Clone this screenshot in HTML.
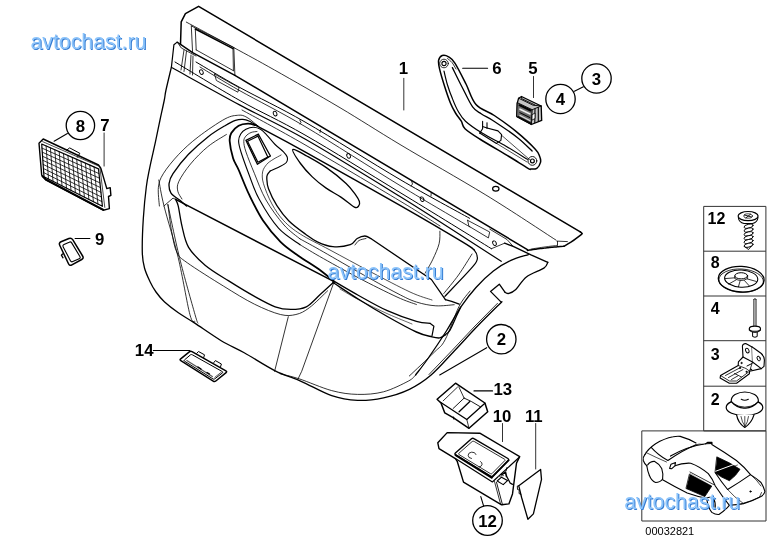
<!DOCTYPE html>
<html><head><meta charset="utf-8"><title>diagram</title>
<style>
html,body{margin:0;padding:0;background:#fff;}
body{width:773px;height:546px;overflow:hidden;font-family:"Liberation Sans",sans-serif;}
svg{display:block;will-change:transform;font-family:"Liberation Sans",sans-serif;}
.wm{font-size:22.4px;fill:#8cc4fb;}
.wms{font-size:22.4px;fill:#357cd2;}
</style></head><body>
<svg width="773" height="546" viewBox="0 0 773 546" stroke-linecap="round" stroke-linejoin="round">
<rect x="0" y="0" width="773" height="546" fill="#fff"/>
<path d="M180.5 44.4 L181.2 21.8 L185.4 13.6 L198.6 6.3 L580.3 231.9" fill="none" stroke="#000" stroke-width="1.5"/>
<path d="M580.3 231.9 C580.5 232.1 581.6 232.8 581.8 233.2 C581.9 233.6 583 233.1 581.2 234.6 C579.4 236.1 573.8 240.2 570.9 242.2 C568 244.1 565.1 245.6 563.9 246.3" fill="none" stroke="#000" stroke-width="1.5"/>
<path d="M186.3 22.1 C194.2 26.3 218.9 39.5 233.6 47.5 C248.3 55.5 256.8 60 274.5 70 C292.2 80 319.1 95.3 340 107.7 C360.9 120.1 375.7 129.9 400 144.5 C424.3 159.1 459.9 179.1 485.9 195 C511.9 210.9 544.3 232.6 556 240.1" fill="none" stroke="#000" stroke-width="0.8"/>
<path d="M234.9 75.3 L527.4 249.6" fill="none" stroke="#000" stroke-width="1.5"/>
<path d="M527.4 250.4 C529.5 250.1 535.9 249.1 540 248.6 C544.1 248.1 548 247.7 552 247.3 C556 246.9 561.9 246.5 563.9 246.3" fill="none" stroke="#000" stroke-width="1.5" stroke-dasharray="2.2 0.6"/>
<path d="M531 249 C533.3 248.7 540.6 247.5 545 246.9 C549.4 246.3 555.4 245.6 557.5 245.3" fill="none" stroke="#000" stroke-width="0.7"/>
<path d="M556.9 241.1 L567.4 241.6" fill="none" stroke="#000" stroke-width="0.8"/>
<path d="M557.5 241.4 L557.5 245.2" fill="none" stroke="#000" stroke-width="0.8"/>
<path d="M191.3 25.9 L192.6 52.6" fill="none" stroke="#000" stroke-width="0.8"/>
<path d="M195.3 29 L196.2 49.9" fill="none" stroke="#000" stroke-width="0.8"/>
<path d="M191.3 25.9 L233.8 47.5" fill="none" stroke="#000" stroke-width="0.8"/>
<path d="M195.3 29 L233 48.6" fill="none" stroke="#000" stroke-width="1.5"/>
<path d="M233.8 47.5 L234.9 75.3" fill="none" stroke="#000" stroke-width="0.8"/>
<path d="M233 48.6 L233.4 70.7" fill="none" stroke="#000" stroke-width="0.8"/>
<path d="M180.5 44.4 L192.6 52.6 L234.9 75.3" fill="none" stroke="#000" stroke-width="1.5"/>
<path d="M196.2 49.9 L233.4 70.7" fill="none" stroke="#000" stroke-width="0.8"/>
<path d="M180.5 44.4 L177.2 42.1 L173.9 44.8 L171.4 67.1" fill="none" stroke="#000" stroke-width="1.2"/>
<path d="M177.2 42.1 L181.3 48 L196 56" fill="none" stroke="#000" stroke-width="0.8"/>
<path d="M184 50 L181 70" fill="none" stroke="#000" stroke-width="0.8"/>
<path d="M186.5 51 L184 71.5" fill="none" stroke="#000" stroke-width="0.8"/>
<path d="M191 55 L190 74" fill="none" stroke="#000" stroke-width="0.8"/>
<path d="M193 56 L192.5 75" fill="none" stroke="#000" stroke-width="0.8"/>
<path d="M171.4 67.1 C170.5 70.9 167.2 84.5 166 90 C164.8 95.5 165.3 95 164.3 100 C163.3 105 161.5 113 160 120 C158.5 127 157.2 133.7 155.5 141.7 C153.8 149.7 151.2 160.3 149.7 167.9 C148.2 175.5 147.4 178.5 146.3 187 C145.2 195.5 144 207.9 143.3 218.8 C142.6 229.7 142.1 244.2 142.3 252.4 C142.5 260.6 143.2 263.2 144.5 268 C145.8 272.8 147.9 277.2 149.8 281.2 C151.7 285.2 153.5 288.5 156 292 C158.5 295.5 160.9 298.6 164.6 302 C168.3 305.4 173 309 178 312.5 C183 316 187.2 318.2 194.4 322.9 C201.6 327.6 212.9 335.7 221.2 340.7 C229.5 345.7 235.2 347.8 244.2 352.8 C253.2 357.8 265.7 366.1 275.2 370.9 C284.7 375.6 291.7 377.2 301.1 381.3 C310.5 385.4 322.3 392.5 331.7 395.7 C341.1 398.9 349 400 357.6 400.4 C366.2 400.8 374.9 399.6 383.5 397.8 C392.1 396 401.5 393.1 409.4 389.3 C417.3 385.5 423.6 381.4 431.1 375 C438.6 368.6 446.7 358.9 454.5 350.7 C462.3 342.5 469.9 334 477.8 325.8 C485.7 317.6 497.9 305.7 501.9 301.7" fill="none" stroke="#000" stroke-width="1.3"/>
<path d="M280 373.7 C283.2 374.6 290.8 376.1 299.4 378.9 C308 381.7 322 388 331.7 390.6 C341.4 393.2 349 394.2 357.6 394.4 C366.2 394.6 375.1 394 383.5 391.8 C391.9 389.6 402.8 384 408.2 381.2 C413.6 378.4 414.4 376 415.6 375" fill="none" stroke="#000" stroke-width="0.8"/>
<path d="M497.5 303.3 L475 326 L452 350.5 L429 374.5" fill="none" stroke="#000" stroke-width="0.8"/>
<path d="M501.2 302.1 L490.5 291.4 L499.3 284.2 L505.1 292.4" fill="none" stroke="#000" stroke-width="1.3"/>
<path d="M505.1 292.4 C505.8 292.6 507.2 293.9 509 293.4 C510.8 292.9 512.9 292.2 515.8 289.5 C518.7 286.8 521.7 280.5 526.4 276.9 C531.1 273.3 540.3 270.5 543.9 268.1 C547.5 265.7 547.1 263.3 547.8 262.3" fill="none" stroke="#000" stroke-width="1.3"/>
<path d="M547.8 262.3 L531 254.9 L513.2 246.4 L504.6 243.2" fill="none" stroke="#000" stroke-width="1.3"/>
<path d="M196 62 C203.3 66.3 221.8 77.6 240 87.6 C258.2 97.6 278.3 106.7 305 122 C331.7 137.3 372.6 163.4 400 179.5 C427.4 195.6 458 211.8 469.6 218.3" fill="none" stroke="#000" stroke-width="1.0"/>
<path d="M200 67 C206.7 71 222.5 80.9 240 90.8 C257.5 100.7 278.3 110.7 305 126.5 C331.7 142.3 372.5 168.8 400 185.5 C427.5 202.2 458.3 220.1 470 227" fill="none" stroke="#000" stroke-width="0.8"/>
<path d="M175 62 C185.8 68.4 218.3 88.4 240 100.6 C261.7 112.8 278.3 119.7 305 135 C331.7 150.3 368.9 173.6 400 192.5 C431.1 211.4 476.2 239.3 491.4 248.7" fill="none" stroke="#000" stroke-width="1.0"/>
<path d="M172.2 67.8 C183.5 74 217.9 93.2 240 105.1 C262.1 117 278.3 123.8 305 139 C331.7 154.2 372.8 179.7 400 196.5 C427.2 213.3 451.3 229.2 468.2 240 C485.1 250.8 495.7 257.8 501.2 261.3" fill="none" stroke="#000" stroke-width="1.2"/>
<path d="M242 110 C252.5 115.8 278.7 129.6 305 144.8 C331.3 160 377.5 187.5 400 201 C422.5 214.5 433.3 221.8 440 226" fill="none" stroke="#000" stroke-width="0.8"/>
<path d="M255.3 125.1 C256.2 125.5 252.2 123.3 260.5 127.8 C268.8 132.2 281.8 138.9 305 151.8 C328.2 164.7 373.8 190.4 400 205.4 C426.2 220.4 450.1 234.5 462.4 241.9 C474.7 249.3 472.1 248.4 474 249.7" fill="none" stroke="#000" stroke-width="1.4"/>
<path d="M491.4 248.7 L504.6 243.2" fill="none" stroke="#000" stroke-width="0.8"/>
<path d="M489.8 229.2 L507 239.5 L513.2 246.4" fill="none" stroke="#000" stroke-width="0.8"/>
<ellipse cx="201.4" cy="72.1" rx="1.7" ry="2.4" fill="none" stroke="#000" stroke-width="0.9" transform="rotate(-25 201.4 72.1)"/>
<ellipse cx="275.1" cy="113.6" rx="1.7" ry="2.4" fill="none" stroke="#000" stroke-width="0.9" transform="rotate(-25 275.1 113.6)"/>
<ellipse cx="348.6" cy="155.9" rx="1.7" ry="2.4" fill="none" stroke="#000" stroke-width="0.9" transform="rotate(-25 348.6 155.9)"/>
<ellipse cx="422.1" cy="199.2" rx="1.7" ry="2.4" fill="none" stroke="#000" stroke-width="0.9" transform="rotate(-25 422.1 199.2)"/>
<ellipse cx="494.5" cy="243.2" rx="1.7" ry="2.4" fill="none" stroke="#000" stroke-width="0.9" transform="rotate(-25 494.5 243.2)"/>
<ellipse cx="495.8" cy="188.8" rx="3.2" ry="2.4" fill="none" stroke="#000" stroke-width="1.2"/>
<path d="M214.4 74 L239.1 87.7 L237.8 92.2 L216.4 80.5 L214.4 74" fill="none" stroke="#000" stroke-width="0.8"/>
<path d="M299.8 120.1 L301 122.5 L300 124" fill="none" stroke="#000" stroke-width="0.8"/>
<path d="M320.6 129.8 L320 132.5" fill="none" stroke="#000" stroke-width="0.8"/>
<path d="M411.7 181.3 L412.5 184 L411 186" fill="none" stroke="#000" stroke-width="0.8"/>
<path d="M431.2 193 L431 196" fill="none" stroke="#000" stroke-width="0.8"/>
<path d="M467.6 220.3 L489.7 232 L488.4 237.9 L468.9 226.2 L467.6 220.3" fill="none" stroke="#000" stroke-width="0.8"/>
<path d="M528.4 254.6 C525.5 255.6 516.7 257.7 510.9 260.4 C505.1 263.1 499.2 266.5 493.4 271 C487.6 275.5 481.4 281.5 476 287.5 C470.6 293.5 465.6 299.9 460.7 307.1 C455.8 314.3 452.1 321.9 446.7 330.5 C441.2 339.1 433.2 351.1 428 358.5 C422.8 365.9 417.7 372.2 415.6 375" fill="none" stroke="#000" stroke-width="1.3"/>
<path d="M470 291 C468.2 293.6 463.1 298.4 459 306.5 C454.9 314.6 449.2 332.2 445.1 339.8 C441 347.4 440.2 346.3 434.2 352.3 C428.2 358.3 413.4 372.1 409.3 376" fill="none" stroke="#000" stroke-width="0.8"/>
<path d="M474 249.7 C474.5 250.7 477 252.9 477 255.5 C477 258.1 479.4 258.4 474 265.2 C468.6 272 449.8 291.1 444.9 296.3" fill="none" stroke="#000" stroke-width="1.2"/>
<path d="M472 254 C469.8 257.5 463.2 268.4 458.5 275 C453.8 281.6 446.2 290.4 443.8 293.5" fill="none" stroke="#000" stroke-width="0.8"/>
<path d="M258 126.3 C257 125.4 254 122.6 252 121 C250 119.4 248.1 117.8 245.9 116.8 C243.7 115.8 242.1 114.8 238.6 115.2 C235.1 115.6 231.7 115.3 225 118.9 C218.3 122.5 205.9 131 198.2 136.9 C190.5 142.8 184.6 148.2 178.8 154.3 C173 160.4 166.7 168.2 163.3 173.7 C159.9 179.2 159.1 181.9 158.4 187.3 C157.8 192.7 159.2 202.9 159.4 206" fill="none" stroke="#000" stroke-width="0.8"/>
<path d="M258 126.3 C256.5 125.4 251.5 122.2 249 121 C246.5 119.8 245.1 119.5 242.8 119.4 C240.5 119.3 238.4 119.4 235.4 120.4 C232.4 121.5 229.6 123 225 125.7 C220.4 128.4 214 132.1 207.9 136.9 C201.8 141.7 194.3 148.2 188.5 154.3 C182.7 160.4 176.2 168.8 173 173.7 C169.8 178.5 169.4 180.2 169.1 183.4 C168.8 186.6 169.1 190.2 171 193.1 C172.9 196 178.2 198.8 180.8 200.9 C183.4 203.1 185.6 205.2 186.6 206" fill="none" stroke="#000" stroke-width="1.3"/>
<path d="M226.4 134.5 C223.3 136.5 213.9 141.7 207.9 146.6 C201.9 151.5 195.3 158.2 190.5 164 C185.7 169.8 180.9 177 178.8 181.5 C176.7 186 177.3 188.3 177.8 191.2 C178.3 194.1 181.3 197.7 182 199" fill="none" stroke="#000" stroke-width="0.8"/>
<path d="M255.3 125.1 C254.1 124.8 250.8 123.5 248 123.6 C245.2 123.7 241.4 124.1 238.6 125.7 C235.8 127.3 232.8 130.4 231.3 133 C229.8 135.6 229.4 137.1 229.7 141.3 C230 145.5 231.6 153.4 233.1 158.2 C234.6 163 236 163.8 238.7 170 C241.4 176.2 245.3 186.8 249.4 195.2 C253.5 203.6 257.8 212.7 263 220.5 C268.2 228.3 274.7 236 280.5 241.8 C286.3 247.6 291.1 250.6 297.9 255.4 C304.7 260.2 315.2 266.5 321.2 270.9 C327.2 275.3 332 279.9 334.1 281.7" fill="none" stroke="#000" stroke-width="1.8"/>
<path d="M270.2 171 C271.8 170.3 276.8 168.2 279.5 166.8 C282.2 165.4 285 164.1 286.3 162.5 C287.6 160.9 287.7 158.8 287.2 157 C286.7 155.2 285.5 153.9 283.5 151.8 C281.5 149.7 277.9 147.3 275.1 144.5 C272.3 141.7 269.2 137.6 266.8 135.1 C264.4 132.6 262.8 130.6 260.5 129.3 C258.2 128 255.6 127.2 253.2 127.2 C250.8 127.2 248 128.2 245.9 129.3 C243.8 130.4 241.9 132 240.7 134 C239.5 136 238.5 138.3 238.6 141.3 C238.7 144.3 239.3 146.6 241 152 C242.7 157.4 245.7 165.8 248.7 173.7 C251.7 181.5 254.1 190 259.1 199.1 C264.1 208.2 271.7 220.6 278.5 228.2 C285.3 235.8 296.4 241.9 300 244.7" fill="none" stroke="#000" stroke-width="1.1"/>
<path d="M257 131.5 C256 131.7 252.9 131.7 251.1 132.5 C249.2 133.3 247.1 134.6 245.9 136.1 C244.7 137.6 243.8 138.7 243.8 141.3 C243.8 144 244.2 146.6 246 152 C247.8 157.4 251.2 165.7 254.5 173.7 C257.8 181.7 261.1 191.4 266 200 C270.9 208.6 278.3 218.5 284 225 C289.7 231.5 297.3 236.6 300 238.9" fill="none" stroke="#000" stroke-width="0.8"/>
<path d="M281.1 155 C279.8 155.8 275.4 157.9 273 159.5 C270.6 161.1 268.5 162.2 266.8 164.3 C265.1 166.4 263.2 168.7 262.6 171.9 C262.1 175.1 261.9 178.4 263.5 183.7 C265.1 189 268.5 197.7 271.9 203.9 C275.3 210.1 278.9 215.6 283.7 220.7 C288.5 225.8 292.8 229.3 300.5 234.2 C308.2 239.1 318.4 243.8 330 250 C341.6 256.2 356.7 264.5 370 271.5 C383.3 278.5 399.7 287.2 410 292 C420.3 296.8 428.3 298.7 432 300" fill="none" stroke="#000" stroke-width="0.7"/>
<path d="M245.9 140.3 L258.4 134.2 L270.4 156 L257.4 164.3Z" fill="none" stroke="#000" stroke-width="1.3"/>
<path d="M247.5 141.3 L257.9 136.1 L267.8 157 L257.9 162.2Z" fill="none" stroke="#000" stroke-width="1.2"/>
<path d="M258.4 134.2 L257.9 136.1" fill="none" stroke="#000" stroke-width="0.8"/>
<path d="M270.4 156 L267.8 157" fill="none" stroke="#000" stroke-width="0.8"/>
<path d="M270.2 171 C269.8 171.6 268.1 173.2 267.5 174.5 C266.9 175.8 266.6 176.2 266.8 178.6 C267 181 266.8 184.2 268.5 188.7 C270.2 193.2 273.5 200.3 276.9 205.6 C280.3 210.9 283.9 215.9 288.7 220.7 C293.5 225.5 300.8 230.7 305.6 234.2 C310.4 237.7 312.8 239.7 317.3 241.8 C321.9 243.9 327.4 246.2 332.9 246.7 C338.4 247.2 346.2 246.1 350.3 244.7 C354.4 243.3 354.8 239.9 357.2 238.5 C359.6 237.1 362.6 236 364.9 236 C367.2 236 369.8 238.1 370.8 238.5" fill="none" stroke="#000" stroke-width="1.3"/>
<path d="M370.8 238.5 L431.4 279.5 L445.4 299.7" fill="none" stroke="#000" stroke-width="1.3"/>
<path d="M355 245 C355.7 244.2 357.2 241.6 359 240.5 C360.8 239.4 364.8 238.8 366 238.5" fill="none" stroke="#000" stroke-width="0.8"/>
<path d="M292.8 149.5 C293.9 148.3 301.7 153.2 307.3 156.3 C312.9 159.4 320.2 163.4 326.7 167.9 C333.2 172.4 341.2 178.9 346.1 183.4 C351 187.9 353.6 192.1 355.8 195.1 C358 198.1 358.9 199.7 359.4 201.5 C359.9 203.3 359.4 205.1 358.6 206 C357.8 206.9 357.3 208.7 354.4 207.2 C351.4 205.7 345.7 200.3 340.9 197.1 C336.1 193.9 330.6 191.3 325.8 187.9 C321 184.5 316.5 181 312.3 176.9 C308.1 172.8 303.8 168.1 300.5 163.5 C297.2 158.9 291.7 150.7 292.8 149.5Z" fill="none" stroke="#000" stroke-width="1.3"/>
<path d="M439.9 231.2 C439.8 233.3 440.3 239 439.1 243.7 C437.9 248.4 435.2 254.3 432.9 259.2 C430.6 264.1 426.4 270.9 425.1 273.2" fill="none" stroke="#000" stroke-width="0.8"/>
<path d="M333 280.6 C337.2 283 349.1 290.2 358.2 295.2 C367.2 300.2 377.6 306.3 387.3 310.7 C397 315.1 409.3 319.3 416.4 321.4 C423.5 323.5 427.7 323 430 323.3" fill="none" stroke="#000" stroke-width="1.3"/>
<path d="M430 323.3 L433.9 326.2 L432 335.9" fill="none" stroke="#000" stroke-width="1.2"/>
<path d="M333 282.5 C337.2 285.2 349.1 293.3 358.2 299 C367.2 304.7 377.6 311 387.3 316.5 C397 322 408.9 328.6 416.4 332 C423.8 335.4 428.1 335.9 432 336.9 C435.9 337.9 437.5 338.2 439.7 337.9 C441.9 337.6 444.1 335.5 445 335" fill="none" stroke="#000" stroke-width="1.4"/>
<path d="M445 335 C445.8 334.2 448.1 333.3 450 330.1 C451.9 326.9 454.7 319.8 456.5 316 C458.3 312.2 460 308.6 460.7 307.1" fill="none" stroke="#000" stroke-width="1.3"/>
<path d="M340 289 C343.3 290.9 352 296.3 360 300.5 C368 304.7 379.3 310.1 388 314 C396.7 317.9 408 322.3 412 324" fill="none" stroke="#000" stroke-width="0.6"/>
<path d="M300 238.9 C303.2 240.7 309.7 244.1 319.4 249.6 C329.1 255.1 345.3 264.6 358.2 271.9 C371.1 279.2 387.3 288.2 397 293.2 C406.7 298.2 409.9 299.9 416.4 302 C422.9 304.1 429.5 305.4 435.8 305.8 C442.1 306.2 451.1 304.9 454.2 304.7" fill="none" stroke="#000" stroke-width="0.8"/>
<path d="M300 244.7 C303.2 246.6 309.7 250.8 319.4 256.3 C329.1 261.8 345.3 270.9 358.2 277.7 C371.1 284.5 387.3 292.5 397 297 C406.7 301.5 413.2 303.2 416.4 304.5" fill="none" stroke="#000" stroke-width="0.8"/>
<path d="M445.4 299.7 L451.6 301.3 L459.2 304.2" fill="none" stroke="#000" stroke-width="1.3"/>
<path d="M175.6 199.4 L334.1 281.7" fill="none" stroke="#000" stroke-width="1.5"/>
<path d="M175.6 199.4 C176 200.5 177.1 201.4 178.2 205.9 C179.3 210.4 180.4 219.7 182.1 226.6 C183.8 233.5 184.7 240.8 188.6 247.3 C192.5 253.8 198.7 259.8 205.4 265.4 C212.1 271 220.5 275.7 228.7 280.9 C236.9 286.1 246.8 292.1 254.5 296.4 C262.2 300.7 269.1 304.6 275.2 306.8 C281.2 309 285.6 309.4 290.8 309.4 C296 309.4 301.5 309.2 306.3 306.8 C311.1 304.4 315.3 298.9 319.9 294.7 C324.5 290.5 331.7 283.9 334.1 281.7" fill="none" stroke="#000" stroke-width="1.3"/>
<path d="M167.9 204.6 C168.5 209.1 170.2 223.7 171.7 231.7 C173.2 239.7 174.3 247.2 176.9 252.4 C179.5 257.6 179.5 257.2 187.3 262.8 C195.1 268.4 212.3 279.2 223.5 286.1 C234.7 293 245 299.5 254.5 304.2 C264 308.9 273.5 312.8 280.4 314.5 C287.3 316.2 291 315.6 295.9 314.5 C300.8 313.4 304.2 311.6 309.5 307.6 C314.8 303.7 324.6 293.6 327.6 290.8" fill="none" stroke="#000" stroke-width="0.8"/>
<path d="M158.8 180 C159.7 184.3 160.8 193 164 205.9 C167.2 218.8 173.9 239.5 178.2 257.6 C182.5 275.7 187.1 303.9 189.9 314.5 C192.7 325.1 194.2 320.2 195 321.3" fill="none" stroke="#000" stroke-width="0.8"/>
<path d="M167.9 204.6 C169.8 213.4 175 239.3 179.5 257.6 C184 275.9 191.9 303.6 195 314.5 C198.1 325.4 197.5 321.6 198 323" fill="none" stroke="#000" stroke-width="0.8"/>
<path d="M164 205.9 L173 198.1 L175.6 199.4" fill="none" stroke="#000" stroke-width="0.8"/>
<path d="M334.1 281.7 L301.7 371.3 L298 379" fill="none" stroke="#000" stroke-width="0.8"/>
<path d="M288.3 316.7 L274.6 371.3" fill="none" stroke="#000" stroke-width="0.8"/>
<text x="403.3" y="74.4" font-size="16.8" font-weight="bold" text-anchor="middle" fill="#000">1</text>
<path d="M403.8 78.3 L403.8 110" fill="none" stroke="#000" stroke-width="0.8"/>
<text x="497" y="74" font-size="16.8" font-weight="bold" text-anchor="middle" fill="#000">6</text>
<path d="M462.7 68.2 L487.6 68.2" fill="none" stroke="#000" stroke-width="1.1"/>
<text x="533" y="74" font-size="16.8" font-weight="bold" text-anchor="middle" fill="#000">5</text>
<path d="M533.5 76.5 L533.5 97.6" fill="none" stroke="#000" stroke-width="0.8"/>
<path d="M574.4 91.2 L583.4 86.7" fill="none" stroke="#000" stroke-width="1.1"/>
<circle cx="560.5" cy="99" r="14.7" fill="#fff" stroke="#000" stroke-width="1.3"/>
<text x="560.5" y="105" font-size="16.8" font-weight="bold" text-anchor="middle" fill="#000">4</text>
<circle cx="596.5" cy="78.5" r="14.7" fill="#fff" stroke="#000" stroke-width="1.3"/>
<text x="596.5" y="84.5" font-size="16.8" font-weight="bold" text-anchor="middle" fill="#000">3</text>
<path d="M67.4 133.5 L54.1 141.2" fill="none" stroke="#000" stroke-width="1.1"/>
<circle cx="80.4" cy="125.5" r="14.2" fill="#fff" stroke="#000" stroke-width="1.3"/>
<text x="80.4" y="131.5" font-size="16.8" font-weight="bold" text-anchor="middle" fill="#000">8</text>
<text x="105" y="130.6" font-size="16.8" font-weight="bold" text-anchor="middle" fill="#000">7</text>
<path d="M104.1 133 L104.1 166.1" fill="none" stroke="#000" stroke-width="0.8"/>
<text x="99.7" y="245.2" font-size="16.8" font-weight="bold" text-anchor="middle" fill="#000">9</text>
<path d="M75.1 238.5 L89.9 238.5" fill="none" stroke="#000" stroke-width="1.1"/>
<text x="144.2" y="355.7" font-size="16.8" font-weight="bold" text-anchor="middle" fill="#000">14</text>
<path d="M153.3 350.5 L189.8 350.5" fill="none" stroke="#000" stroke-width="1.1"/>
<path d="M486.7 347.7 L439.7 375" fill="none" stroke="#000" stroke-width="1.1"/>
<circle cx="501.3" cy="339.2" r="14.7" fill="#fff" stroke="#000" stroke-width="1.3"/>
<text x="501.3" y="345.2" font-size="16.8" font-weight="bold" text-anchor="middle" fill="#000">2</text>
<text x="502.8" y="394.6" font-size="16.8" font-weight="bold" text-anchor="middle" fill="#000">13</text>
<path d="M474 390.9 L492.5 390.9" fill="none" stroke="#000" stroke-width="1.1"/>
<text x="502" y="421.8" font-size="16.8" font-weight="bold" text-anchor="middle" fill="#000">10</text>
<path d="M502.5 423.5 L502.5 441.6" fill="none" stroke="#000" stroke-width="0.8"/>
<text x="533.8" y="421.8" font-size="16.8" font-weight="bold" text-anchor="middle" fill="#000">11</text>
<path d="M535.7 423.5 L535.7 469" fill="none" stroke="#000" stroke-width="0.8"/>
<path d="M480.8 496.6 L483.8 506.6" fill="none" stroke="#000" stroke-width="1.1"/>
<circle cx="487.5" cy="520.5" r="14.8" fill="#fff" stroke="#000" stroke-width="1.3"/>
<text x="487.5" y="526.5" font-size="16.8" font-weight="bold" text-anchor="middle" fill="#000">12</text>
<path d="M442.2 55.5 C440.5 56.1 439.1 58.2 438.6 60.4 C438.2 62.6 438.5 64.3 439.5 68.6 C440.5 72.9 442.7 80.3 444.5 86 C446.3 91.7 448.6 98.5 450.4 103 C452.2 107.5 453.7 110 455.5 113 C457.3 116 459.7 118.6 461.3 121.2 C462.9 123.8 461.9 125.7 465 128.7 C468.1 131.7 472.4 134.4 479.7 139 C487 143.6 500.9 151.6 509 156.5 C517 161.4 524.4 166.2 528 168.3 C531.6 170.4 529.4 169 530.9 169 C532.4 169 535.2 169.4 536.8 168.3 C538.4 167.2 540 164.4 540.5 162.4 C541 160.4 540.6 158.7 539.7 156.5 C538.8 154.3 539.2 153.3 535.3 149.2 C531.4 145 523.1 137.2 516.3 131.6 C509.5 126 501 120 494.3 115.5 C487.6 111 480.7 109.8 476 104.5 C471.3 99.2 469.5 90.9 466 84 C462.5 77.1 457.8 67.6 454.9 63.1 C452 58.6 450.7 58.1 448.6 56.8 C446.5 55.5 443.9 54.9 442.2 55.5Z" fill="none" stroke="#000" stroke-width="1.5"/>
<path d="M452.4 67.6 C454 70.8 458.5 80.2 461.9 86.7 C465.3 93.2 469.3 102.4 472.6 106.9 C475.9 111.5 477.9 111.6 481.5 114 C485.1 116.4 487.9 117.2 494 121.2 C500.1 125.2 511.5 132.9 517.9 137.9 C524.2 142.9 529.7 148.8 532.1 151" fill="none" stroke="#000" stroke-width="1.3"/>
<path d="M444 71.2 C444.6 73.5 446.1 80.4 447.5 85 C448.9 89.6 450.6 94.3 452.4 98.6 C454.1 102.9 455.8 107.2 458 111 C460.2 114.8 461.5 117.5 465.5 121.2 C469.5 124.9 475.4 128.9 482.1 133.1 C488.9 137.3 498.4 141.8 506 146.2 C513.5 150.6 523.8 157.1 527.4 159.3" fill="none" stroke="#000" stroke-width="1.2"/>
<path d="M447.5 58.5 C448.2 59.2 450.6 60.8 452 62.5 C453.4 64.2 455.3 67.9 456 69" fill="none" stroke="#000" stroke-width="0.8"/>
<circle cx="444" cy="63.5" r="2.1" fill="none" stroke="#000" stroke-width="1.1"/>
<circle cx="444" cy="63.5" r="4.3" fill="none" stroke="#000" stroke-width="0.8"/>
<circle cx="532.4" cy="160.9" r="1.9" fill="none" stroke="#000" stroke-width="1.2"/>
<circle cx="532.4" cy="160.9" r="4.4" fill="none" stroke="#000" stroke-width="0.9"/>
<path d="M482.6 121.4 L482.6 126.5" fill="none" stroke="#000" stroke-width="1.1"/>
<path d="M487 122.8 L487 128" fill="none" stroke="#000" stroke-width="1.1"/>
<path d="M479.7 133.1 L482.6 128.7 L482.6 126.5 L487 128" fill="none" stroke="#000" stroke-width="1.1"/>
<path d="M487 128 L498 130.9 L501.6 134.6 L500.9 140.4 L496.5 143.4" fill="none" stroke="#000" stroke-width="1.1"/>
<path d="M479.7 133.1 L496.5 143.4" fill="none" stroke="#000" stroke-width="1.2"/>
<path d="M501.6 135.3 L529.5 159.5" fill="none" stroke="#000" stroke-width="0.7"/>
<path d="M496.5 143.4 L527 162" fill="none" stroke="#000" stroke-width="0.7"/>
<path d="M518.6 98.2 L521.5 96.5 L541.2 106 L541.7 120.4 L531.4 124.5 L516.9 116.7 L517.4 102.7Z" fill="#c4c4c4" stroke="#000" stroke-width="1.3"/>
<path d="M517.4 102.7 L532.2 109.7 L531.4 124.5 L516.9 116.7Z" fill="#6a6a6a" stroke="#000" stroke-width="0.9"/>
<path d="M518.6 98.2 L533 105.2 L541.2 106" fill="none" stroke="#000" stroke-width="0.9"/>
<path d="M521.5 96.5 L521.5 98.5 L535 105" fill="none" stroke="#000" stroke-width="0.9"/>
<path d="M532.2 109.7 L541.2 106" fill="none" stroke="#000" stroke-width="0.9"/>
<path d="M519.5 105.2 L530.5 110.5" fill="none" stroke="#000" stroke-width="2.0"/>
<path d="M520 109.2 L530 114" fill="none" stroke="#eee" stroke-width="1.6"/>
<path d="M519.8 112.6 L530 117.6" fill="none" stroke="#000" stroke-width="1.0"/>
<path d="M520 115.5 L529.8 120.5" fill="none" stroke="#ddd" stroke-width="1.4"/>
<path d="M518 116.5 L531 123.3" fill="none" stroke="#000" stroke-width="1.3"/>
<path d="M535 108.8 L534.8 122.5" fill="none" stroke="#000" stroke-width="1.1"/>
<path d="M538.3 107.6 L538.3 121.3" fill="none" stroke="#000" stroke-width="1.1"/>
<path d="M532.4 114.5 L535 113 L535 118.5 L532.2 120Z" fill="#fff" stroke="#000" stroke-width="0.8"/>
<path d="M43.2 139 L39 143.2 L41.7 175.1 L45.6 179.8 L103.2 210.2 L109.4 208.6 L108.5 196.5 L110.9 195.4 L110.2 187.6 L106.8 188.6 L100.8 168.1 L98.5 165Z" fill="#fff" stroke="#000" stroke-width="1.4"/>
<path d="M66.6 150.2 L69.7 147.9 L79.8 153.3 L77.5 157.2" fill="none" stroke="#000" stroke-width="1.0"/>
<path d="M41.7 144 L98.5 168.9 L102.4 206.3 L44 176.7Z" fill="none" stroke="#000" stroke-width="1.2"/>
<path d="M42.6 141.6 L99.8 166.6 L104.8 207.4" fill="none" stroke="#000" stroke-width="0.7"/>
<path d="M42.5 176.3 L45.8 179.3 L103 209.6" fill="none" stroke="#000" stroke-width="2.0"/>
<path d="M46.1 145.9 L48.5 179" fill="none" stroke="#000" stroke-width="0.8"/>
<path d="M50.4 147.8 L53 181.3" fill="none" stroke="#000" stroke-width="0.8"/>
<path d="M54.8 149.7 L57.5 183.5" fill="none" stroke="#000" stroke-width="0.8"/>
<path d="M59.2 151.7 L62 185.8" fill="none" stroke="#000" stroke-width="0.8"/>
<path d="M63.5 153.6 L66.5 188.1" fill="none" stroke="#000" stroke-width="0.8"/>
<path d="M67.9 155.5 L71 190.4" fill="none" stroke="#000" stroke-width="0.8"/>
<path d="M72.3 157.4 L75.4 192.6" fill="none" stroke="#000" stroke-width="0.8"/>
<path d="M76.7 159.3 L79.9 194.9" fill="none" stroke="#000" stroke-width="0.8"/>
<path d="M81 161.2 L84.4 197.2" fill="none" stroke="#000" stroke-width="0.8"/>
<path d="M85.4 163.2 L88.9 199.5" fill="none" stroke="#000" stroke-width="0.8"/>
<path d="M89.8 165.1 L93.4 201.7" fill="none" stroke="#000" stroke-width="0.8"/>
<path d="M94.1 167 L97.9 204" fill="none" stroke="#000" stroke-width="0.8"/>
<path d="M42 148.1 L99 173.6" fill="none" stroke="#000" stroke-width="0.8"/>
<path d="M42.3 152.2 L99.5 178.2" fill="none" stroke="#000" stroke-width="0.8"/>
<path d="M42.6 156.3 L100 182.9" fill="none" stroke="#000" stroke-width="0.8"/>
<path d="M42.9 160.3 L100.5 187.6" fill="none" stroke="#000" stroke-width="0.8"/>
<path d="M43.1 164.4 L100.9 192.3" fill="none" stroke="#000" stroke-width="0.8"/>
<path d="M43.4 168.5 L101.4 197" fill="none" stroke="#000" stroke-width="0.8"/>
<path d="M43.7 172.6 L101.9 201.6" fill="none" stroke="#000" stroke-width="0.8"/>
<path d="M59.7 245.2 Q58.6 242.8 61 241.8 L68.9 238.5 Q71.3 237.5 72.7 239.7 L82.6 256 Q84 258.2 81.7 259.5 L71.9 264.9 Q69.6 266.2 68.5 263.8Z" fill="none" stroke="#000" stroke-width="1.5"/>
<path d="M63.2 246.9 Q62.4 245.3 64 244.5 L69.2 242.2 Q70.8 241.4 71.7 242.9 L79.9 256.5 Q80.8 258 79.2 258.7 L72.8 261.6 Q71.2 262.3 70.4 260.7Z" fill="none" stroke="#000" stroke-width="1.1"/>
<path d="M62.5 254 L61.4 255.2 L63 257.8" fill="none" stroke="#000" stroke-width="1.3"/>
<path d="M192 351.7 Q190.6 350.9 189.3 351.9 L180.7 358.8 Q179.4 359.8 180.8 360.7 L213.2 381.1 Q214.6 382 215.8 381 L226.1 372.6 Q227.3 371.6 225.9 370.8Z" fill="none" stroke="#000" stroke-width="1.5"/>
<path d="M192.2 354.7 Q191.3 354.2 190.5 354.8 L184.4 360 Q183.6 360.6 184.4 361.1 L213.1 379 Q213.9 379.5 214.7 378.9 L222.6 372.8 Q223.4 372.2 222.5 371.7Z" fill="none" stroke="#000" stroke-width="1.0"/>
<path d="M196.8 353.3 L198.5 351.5 L204.5 354.8 L203.7 357.6" fill="none" stroke="#000" stroke-width="1.0"/>
<path d="M213.8 362.6 L215.4 360.6 L221.4 364 L220.6 366.6" fill="none" stroke="#000" stroke-width="1.0"/>
<path d="M186.8 360.6 L212.3 376.6" fill="none" stroke="#555" stroke-width="1.2"/>
<path d="M214.8 377.3 L221.3 372.2" fill="none" stroke="#555" stroke-width="1.0"/>
<path d="M198 367 L201 369" fill="none" stroke="#000" stroke-width="1.4"/>
<path d="M207 372.5 L209.5 374" fill="none" stroke="#000" stroke-width="1.4"/>
<path d="M455.5 383.2 L437.1 399.2 L441 403 L444.8 412.9 L453.6 417.9 L469 428.3 L487.7 411.8 L484.9 403Z" fill="none" stroke="#000" stroke-width="1.5"/>
<path d="M440.5 402.3 L466.8 419.5 L484.9 403.3" fill="none" stroke="#000" stroke-width="1.3"/>
<path d="M466.8 419.5 L469 428.3" fill="none" stroke="#000" stroke-width="0.8"/>
<path d="M443.2 400.8 L457.5 387.1" fill="none" stroke="#000" stroke-width="0.8"/>
<path d="M458.8 386.8 L464.1 398.1" fill="none" stroke="#000" stroke-width="0.8"/>
<path d="M464.1 398.1 L453.1 408.5" fill="none" stroke="#000" stroke-width="0.9"/>
<path d="M464.1 398.1 L471.2 401.4 L480.5 406.9" fill="none" stroke="#000" stroke-width="0.9"/>
<path d="M469.8 401.5 L459.1 411.8" fill="none" stroke="#000" stroke-width="1.3"/>
<path d="M453.5 417 L453.8 419" fill="none" stroke="#000" stroke-width="1.2"/>
<path d="M447.2 432.6 L437.8 442.8 L439 448.6 L455.4 458.6 L457.2 461.3 L463.5 482.1 L501.6 504.8 L508.9 503.9 L512.5 493.9 L516.5 463.1 L519.7 456.7 L479.8 433.2Z" fill="none" stroke="#000" stroke-width="1.4"/>
<path d="M455.4 458.6 L492.4 482 L519.3 457.2" fill="none" stroke="#000" stroke-width="1.2"/>
<path d="M473.9 438.6 Q472.6 437.8 471.5 438.8 L455.4 453 Q454.3 454 455.6 454.8 L490.5 476.2 Q491.8 477 492.9 475.9 L508.1 460.4 Q509.2 459.3 507.9 458.5Z" fill="none" stroke="#000" stroke-width="1.4"/>
<path d="M473.9 441.3 Q473 440.8 472.2 441.5 L458.8 453.3 Q458 454 458.9 454.5 L490.5 473.7 Q491.4 474.2 492.1 473.5 L504.9 460.5 Q505.6 459.8 504.7 459.3Z" fill="none" stroke="#000" stroke-width="0.8"/>
<path d="M455.6 455.2 L491.6 477.6" fill="none" stroke="#000" stroke-width="2.0"/>
<path d="M491.9 477.4 L508.8 460.3" fill="none" stroke="#000" stroke-width="1.6"/>
<path d="M496.5 482.2 L502.5 504.8" fill="none" stroke="#000" stroke-width="0.9"/>
<path d="M494.5 481.5 L500.5 503.8" fill="none" stroke="#000" stroke-width="0.8"/>
<path d="M471.5 458.5 A4 3.2 0 1 1 476 454.5" fill="none" stroke="#000" stroke-width="0.8"/>
<path d="M480.5 461.5 A3.5 3 0 0 1 479 467" fill="none" stroke="#000" stroke-width="0.8"/>
<path d="M497.2 481 L501.5 477.2 L507.5 480.6 L503.2 484.6Z" fill="#fff" stroke="#000" stroke-width="1.1"/>
<path d="M501.5 474.8 L505.5 472.2 L506.5 476.5" fill="none" stroke="#000" stroke-width="1.6"/>
<path d="M499 476.5 L503.5 475.5" fill="none" stroke="#666" stroke-width="1.2"/>
<path d="M507 477 L510.3 483.2 L512.5 484.3" fill="none" stroke="#000" stroke-width="1.3"/>
<path d="M506 471 L507 467.5" fill="none" stroke="#000" stroke-width="1.0"/>
<path d="M540.6 469.4 L518.8 485.8 L521.6 497.5 L527.9 519.3 L533.4 513.9 L541.5 479.4Z" fill="none" stroke="#000" stroke-width="1.3"/>
<path d="M518.8 485.8 L517.3 486 L517.5 489.5 L519.3 490 L519 493.5 L521 494.5" fill="none" stroke="#000" stroke-width="0.9"/>
<g stroke-linecap="butt">
<path d="M703.7 206.4 L765.9 206.4 L765.9 430.9 L703.7 430.9Z" fill="none" stroke="#333" stroke-width="1.0"/>
<path d="M703.7 251.2 L765.9 251.2" fill="none" stroke="#333" stroke-width="1.0"/>
<path d="M703.7 296 L765.9 296" fill="none" stroke="#333" stroke-width="1.0"/>
<path d="M703.7 340.7 L765.9 340.7" fill="none" stroke="#333" stroke-width="1.0"/>
<path d="M703.7 386.2 L765.9 386.2" fill="none" stroke="#333" stroke-width="1.0"/>
<path d="M641.8 430.9 L766 430.9 L766 521 L641.8 521Z" fill="none" stroke="#333" stroke-width="1.0"/>
</g>
<text x="716.5" y="224" font-size="16" font-weight="bold" text-anchor="middle" fill="#000">12</text>
<text x="715.2" y="267.8" font-size="16" font-weight="bold" text-anchor="middle" fill="#000">8</text>
<text x="715.2" y="313.8" font-size="16" font-weight="bold" text-anchor="middle" fill="#000">4</text>
<text x="715.2" y="359.6" font-size="16" font-weight="bold" text-anchor="middle" fill="#000">3</text>
<text x="715.2" y="404.8" font-size="16" font-weight="bold" text-anchor="middle" fill="#000">2</text>
<text x="645.3" y="534.8" font-size="11" font-weight="normal" text-anchor="start" fill="#000">00032821</text>
<ellipse cx="748.1" cy="216.1" rx="10" ry="4.6" fill="#fff" stroke="#000" stroke-width="1.2"/>
<path d="M738.3 217.5 Q739 222.5 744 223.5 L752.5 223.5 Q757.3 222.5 758 217.5" fill="none" stroke="#000" stroke-width="1.1"/>
<path d="M744.5 215 L751.5 217 M746 217.8 L750.5 214.3" fill="none" stroke="#000" stroke-width="0.9"/>
<ellipse cx="748.1" cy="216" rx="4.3" ry="2.2" fill="none" stroke="#000" stroke-width="0.7"/>
<ellipse cx="748.6" cy="226.2" rx="4.6" ry="1.9" fill="#fff" stroke="#000" stroke-width="0.9" transform="rotate(-12 748.6 226.2)"/>
<ellipse cx="748.6" cy="230" rx="4.6" ry="1.9" fill="#fff" stroke="#000" stroke-width="0.9" transform="rotate(-12 748.6 230)"/>
<ellipse cx="748.6" cy="233.8" rx="4.6" ry="1.9" fill="#fff" stroke="#000" stroke-width="0.9" transform="rotate(-12 748.6 233.8)"/>
<ellipse cx="748.6" cy="237.6" rx="4.6" ry="1.9" fill="#fff" stroke="#000" stroke-width="0.9" transform="rotate(-12 748.6 237.6)"/>
<ellipse cx="748.6" cy="241.4" rx="4.6" ry="1.9" fill="#fff" stroke="#000" stroke-width="0.9" transform="rotate(-12 748.6 241.4)"/>
<ellipse cx="748.6" cy="245.2" rx="4.6" ry="1.9" fill="#fff" stroke="#000" stroke-width="0.9" transform="rotate(-12 748.6 245.2)"/>
<path d="M744.5 246.5 L748.5 249.5 L751.5 246" fill="none" stroke="#000" stroke-width="0.9"/>
<ellipse cx="741.2" cy="279.2" rx="22.9" ry="12.8" fill="#fff" stroke="#000" stroke-width="1.3" transform="rotate(3 741.2 279.2)"/>
<ellipse cx="741.2" cy="280.6" rx="22.3" ry="11.6" fill="none" stroke="#000" stroke-width="0.8" transform="rotate(3 741.2 280.6)"/>
<ellipse cx="741.2" cy="278.6" rx="16.6" ry="8.6" fill="none" stroke="#000" stroke-width="1.1" transform="rotate(3 741.2 278.6)"/>
<ellipse cx="741.2" cy="275.8" rx="6.4" ry="3.1" fill="#fff" stroke="#000" stroke-width="1.0"/>
<path d="M747.2 278.9 L756.4 281.5" fill="none" stroke="#000" stroke-width="0.8"/>
<path d="M744.4 280.5 L749.3 285.9" fill="none" stroke="#000" stroke-width="0.8"/>
<path d="M740.1 280.9 L738.4 286.9" fill="none" stroke="#000" stroke-width="0.8"/>
<path d="M736.3 279.8 L728.8 284" fill="none" stroke="#000" stroke-width="0.8"/>
<path d="M734.8 277.8 L725 278.6" fill="none" stroke="#000" stroke-width="0.8"/>
<path d="M734.8 276 L734.8 278.5 Q741 282.5 747.6 278.5 L747.6 276" fill="none" stroke="#000" stroke-width="0.8"/>
<path d="M753.9 299.5 L753.9 326.5" fill="none" stroke="#000" stroke-width="0.9"/>
<path d="M756 299.5 L756 326.5" fill="none" stroke="#000" stroke-width="0.9"/>
<path d="M753.9 299.5 Q755 297 756 299.5" fill="none" stroke="#000" stroke-width="0.9"/>
<ellipse cx="754.9" cy="328.7" rx="5.6" ry="2.6" fill="#fff" stroke="#000" stroke-width="1.1"/>
<path d="M749.3 329 L749.3 330.5 Q755 334.5 760.5 330.5 L760.5 329" fill="none" stroke="#000" stroke-width="0.9"/>
<path d="M752.6 332.5 L752.6 336.5 Q755 338 757.2 336.5 L757.2 332.5" fill="none" stroke="#000" stroke-width="1.0"/>
<path d="M742.4 346 Q742.6 343.8 745.7 343.5 L752.1 347.1 L752.5 362 L743 357 Z" fill="#fff" stroke="#000" stroke-width="1.1"/>
<path d="M752.1 347.1 L754 348.2 L761.3 353.5 Q764.4 356.5 764.4 360 L764 366.4 L761.3 368.6 L752.5 362" fill="#fff" stroke="#000" stroke-width="1.1"/>
<ellipse cx="747.3" cy="350.6" rx="1.6" ry="2.4" fill="none" stroke="#000" stroke-width="0.9" transform="rotate(-25 747.3 350.6)"/>
<ellipse cx="758.7" cy="358.5" rx="1.5" ry="2.5" fill="none" stroke="#000" stroke-width="0.9" transform="rotate(-20 758.7 358.5)"/>
<path d="M743 357 L738.4 361.8 L738.2 365.5 L720.5 375.5 L720.1 378 L729.3 383.2 L736.6 383.2 L749.4 373.8 L749.6 371.2 L761.3 368.6" fill="none" stroke="#000" stroke-width="1.1"/>
<path d="M720.5 375.5 L729.5 381 L736.5 381 L749.6 371.2 L752.5 362" fill="none" stroke="#000" stroke-width="0.8"/>
<path d="M725.5 375.5 L740.5 367.5 M728.5 377.5 L743 369.5 M731.5 379.5 L738 375.8 M734.5 373.5 L741.5 377" fill="none" stroke="#000" stroke-width="0.8"/>
<path d="M738.2 365.5 L746 368.5 L749.6 371.2" fill="none" stroke="#000" stroke-width="0.8"/>
<circle cx="741.5" cy="363" r="0.7" fill="#000" stroke="#000" stroke-width="0.6"/>
<circle cx="740" cy="368" r="0.7" fill="#000" stroke="#000" stroke-width="0.6"/>
<circle cx="746.5" cy="371.8" r="0.7" fill="#000" stroke="#000" stroke-width="0.6"/>
<circle cx="751" cy="369.5" r="0.7" fill="#000" stroke="#000" stroke-width="0.6"/>
<path d="M747 366 L752 363.5" fill="none" stroke="#000" stroke-width="1.0"/>
<ellipse cx="744.5" cy="407.4" rx="18.3" ry="8.2" fill="#fff" stroke="#000" stroke-width="1.2"/>
<path d="M731.2 401.5 Q731 397 735 394.5 Q744.8 389.5 754.6 394.5 Q758.6 397 758.4 401.5 Q752 408.5 744.8 408 Q737.5 408.5 731.2 401.5Z" fill="#fff" stroke="#000" stroke-width="1.2"/>
<path d="M733 403.5 Q744.8 411 756.8 403.5" fill="none" stroke="#000" stroke-width="0.8"/>
<path d="M741.3 399.3 Q744.8 401.2 748.3 399.3" fill="none" stroke="#000" stroke-width="1.2"/>
<path d="M736.6 414.8 Q738 423 744.8 427.4 Q751.5 423 754 414.8" fill="#fff" stroke="#000" stroke-width="1.2"/>
<path d="M741 416.5 Q742 422.5 744.8 426 M744.8 416.5 L744.8 426.5 M748.5 416.5 Q747.8 422.5 745.2 426" fill="none" stroke="#000" stroke-width="0.7"/>
<path d="M645 454.4 Q648 449 655.6 443.8 Q664 438.5 673.2 436.8 Q677 436 680.2 436.4 Q689 439 696 442.9" fill="none" stroke="#000" stroke-width="1.1"/>
<path d="M645 454.4 Q642.5 457.5 643.3 460.5 Q644.5 464 646.8 465.8" fill="none" stroke="#000" stroke-width="1.1"/>
<path d="M651.2 447.3 Q658 455 667.9 460.5 Q682 450.5 696 444.7" fill="none" stroke="#000" stroke-width="1.1"/>
<path d="M646 452.5 Q656 457.5 666.5 462" fill="none" stroke="#000" stroke-width="0.7"/>
<path d="M670.5 456.1 Q687 446.5 705.7 443.8 L711.8 443.5" fill="none" stroke="#000" stroke-width="1.1"/>
<path d="M705.7 443.8 L707.5 442.4 L712 442.3 L711.8 444.5 Q725 452.5 736.4 460.5 Q745 467.5 750.5 474.6" fill="none" stroke="#000" stroke-width="1.1"/>
<path d="M647.7 464.9 Q650.5 461 654.7 461.4 Q659 463.5 661.7 468.4 Q663.5 474 662.6 479" fill="none" stroke="#000" stroke-width="1.1"/>
<path d="M649.4 475.5 Q651.5 481 655.6 482.5 Q660 482.5 662.6 479" fill="none" stroke="#000" stroke-width="1.1"/>
<path d="M646.8 465.8 Q647.5 471 649.4 475.5" fill="none" stroke="#000" stroke-width="1.1"/>
<path d="M662.6 479.8 Q675 487 687.2 493 Q697 496.5 706.6 498.3" fill="none" stroke="#000" stroke-width="1.1"/>
<path d="M706.6 498.3 Q710 496 713.5 498.5 Q716 503 715 508" fill="none" stroke="#000" stroke-width="1.1"/>
<path d="M706.6 498.3 Q707.5 507 711.8 512.4 Q715.5 514.8 718.9 514.5 Q725 510.5 729.4 505.3" fill="none" stroke="#000" stroke-width="1.1"/>
<path d="M729.4 505.3 Q737 504.6 743.5 503.6 Q753 501 761 496.6 Q764.5 494.5 764.9 491.3 Q763.5 486.5 761 482.5 Q756 478 750.5 474.6" fill="none" stroke="#000" stroke-width="1.1"/>
<path d="M741 504 Q751 501.5 759.5 497.2 L761.5 492.5" fill="none" stroke="#000" stroke-width="0.7"/>
<path d="M674.9 465.8 Q682 462.8 690.7 463.2 Q700 466.5 708.3 473.7 Q713 479.5 715.3 486 Q722 496 729.4 505.3" fill="none" stroke="#000" stroke-width="1.1"/>
<path d="M669.6 468.4 L671 464.2 L675.5 462.5 L674.9 465.8 L671.5 468.8Z" fill="#fff" stroke="#000" stroke-width="1.1"/>
<path d="M727.6 489.5 Q740 482 750.5 474.6" fill="none" stroke="#000" stroke-width="1.1"/>
<path d="M727.6 489.5 Q734 497 743.5 503.6" fill="none" stroke="#000" stroke-width="0.7"/>
<path d="M715.3 472.8 Q721 481.5 727.6 489.5" fill="none" stroke="#000" stroke-width="1.1"/>
<path d="M750.5 474.6 Q757 480 761 486" fill="none" stroke="#000" stroke-width="0.7"/>
<circle cx="750.5" cy="491.5" r="0.8" fill="#000" stroke="#000" stroke-width="0.5"/>
<path d="M689.9 473.7 L711.8 486 L704.8 496.6 L686.3 488.6Z" fill="#000" stroke="#000" stroke-width="0.8"/>
<path d="M688.5 473 L712 485.2" fill="none" stroke="#fff" stroke-width="0.7"/>
<path d="M690 472 L713.5 484.5" fill="none" stroke="#000" stroke-width="0.8"/>
<path d="M717.1 457 Q730 462.5 740 469.3 Q736 476 729.4 480.7 Q721 477.5 715.3 472.8Z" fill="#000" stroke="#000" stroke-width="0.8"/>
<path d="M715.8 471.2 L736.5 463.5" fill="none" stroke="#fff" stroke-width="1.0"/>
<path d="M716.5 473 L737.5 465" fill="none" stroke="#000" stroke-width="0.6"/>
<path d="M696 444.7 Q699 443.5 703 444.3" fill="none" stroke="#000" stroke-width="0.7"/>
<text x="31.4" y="50.4" class="wms" textLength="116" lengthAdjust="spacingAndGlyphs">avtochast.ru</text>
<text x="30.4" y="49.4" class="wm" textLength="116" lengthAdjust="spacingAndGlyphs">avtochast.ru</text>
<text x="328.6" y="280.2" class="wms" textLength="116" lengthAdjust="spacingAndGlyphs">avtochast.ru</text>
<text x="327.6" y="279.2" class="wm" textLength="116" lengthAdjust="spacingAndGlyphs">avtochast.ru</text>
<text x="625.2" y="510.2" class="wms" textLength="116" lengthAdjust="spacingAndGlyphs">avtochast.ru</text>
<text x="624.2" y="509.2" class="wm" textLength="116" lengthAdjust="spacingAndGlyphs">avtochast.ru</text>
</svg>
</body></html>
